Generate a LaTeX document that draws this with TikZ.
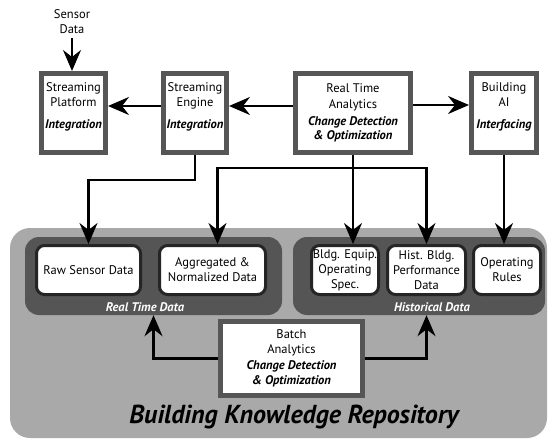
\documentclass[tikz,border=0pt]{standalone}
\usepackage{fontspec}
\setmainfont{PT Sans}
\usepackage{xcolor}
\usetikzlibrary{shapes,arrows.meta}

\definecolor{framegray}{HTML}{565656}
\definecolor{repogray}{HTML}{A9A9A9}
\definecolor{groupgray}{HTML}{555555}
\definecolor{storeedge}{HTML}{252525}

\begin{document}
\begin{tikzpicture}[x = 1pt, y = -1pt]
\tikzstyle{stage} = [draw = framegray, line width = 5pt, fill = white, align = center, inner sep = 1pt, font = \fontsize{12.5}{15.5}\selectfont]
\tikzstyle{store} = [draw = storeedge, line width = 3pt, fill = white, rounded corners = 8pt, align = center, inner sep = 0.5pt, minimum height = 49pt, font = \fontsize{12.5}{15}\selectfont]
\tikzstyle{group} = [fill = groupgray, rounded corners = 14pt, minimum height = 78pt]
\tikzstyle{grouplabel} = [text = white, font = \fontsize{12.5}{14}\selectfont\bfseries\itshape]
\tikzstyle{flow} = [line width = 2.2pt, -{Stealth[length = 21pt, width = 18pt, inset = 7pt]}]
\useasboundingbox (0,0) rectangle (549,441);

\node[fill = repogray, rounded corners = 20pt, minimum width = 537pt, minimum height = 210pt] (repo) at (278.5,333) {};
\node[group, minimum width = 257pt] (rtgroup) at (153.5,276) {};
\node[group, minimum width = 252pt] (histgroup) at (419,276) {};
\node[grouplabel] (rtlabel) at (145,307) {Real Time Data};
\node[grouplabel] (histlabel) at (432,307) {Historical Data};

\node[store, minimum width = 104pt] (raw) at (88.5,270) {Raw Sensor Data};
\node[store, minimum width = 106pt] (agg) at (212.5,270) {Aggregated \&\\Normalized Data};
\node[store, minimum width = 67pt] (equip) at (345,270) {Bldg. Equip.\\Operating\\Spec.};
\node[store, minimum width = 78pt] (hist) at (426.5,270) {Hist. Bldg.\\Performance\\Data};
\node[store, minimum width = 67pt] (rules) at (507,270) {Operating\\Rules};

\node[stage, line width = 4.5pt, minimum width = 142pt, minimum height = 74pt] (batch) at (291.5,358.5) {Batch\\Analytics\\\textbf{\textit{Change Detection}}\\\textbf{\textit{\& Optimization}}};
\node[anchor = base, font = \fontsize{26}{30}\selectfont\bfseries\itshape] (title) at (294,423) {Building Knowledge Repository};

\node[align = center, font = \fontsize{12.5}{15}\selectfont] (sensor) at (72,22) {Sensor\\Data};
\node[stage, minimum width = 64pt, minimum height = 79pt] (platform) at (73.5,113) {Streaming\\Platform\\[6pt]\textbf{\textit{Integration}}\\\mbox{}};
\node[stage, minimum width = 63pt, minimum height = 79pt] (engine) at (195,113) {Streaming\\Engine\\[6pt]\textbf{\textit{Integration}}\\\mbox{}};
\node[stage, minimum width = 115pt, minimum height = 79pt] (rta) at (353,113) {Real Time\\Analytics\\[2pt]\textbf{\textit{Change Detection}}\\[-1.5pt]\textbf{\textit{\& Optimization}}};
\node[stage, minimum width = 65pt, minimum height = 79pt] (ai) at (504,113) {Building\\AI\\[6pt]\textbf{\textit{Interfacing}}\\\mbox{}};

\draw[flow] (sensor.south) -- (sensor.south |- platform.north);
\draw[flow] ([yshift = 7pt]engine.west) -- ([yshift = 7pt]platform.east);
\draw[flow] ([yshift = 7pt]rta.west) -- ([yshift = 7pt]engine.east);
\draw[flow] ([yshift = 8pt]rta.east) -- ([yshift = 8pt]ai.west);
\draw[flow] (engine.south) -- ++(0,25) -| (raw.north);
\draw[flow] (rta.south) -- (rta.south |- equip.north);
\path (rta.south) ++(0,13) coordinate (fork);
\draw[flow] (fork) -| ([xshift = 5pt]agg.north);
\draw[flow] (fork) -| (hist.north);
\draw[flow] (ai.south) -- (ai.south |- rules.north);
\draw[flow] (batch.west) -| (rtgroup.south);
\draw[flow] (batch.east) -| (hist.south |- histgroup.south);
\end{tikzpicture}
\end{document}
